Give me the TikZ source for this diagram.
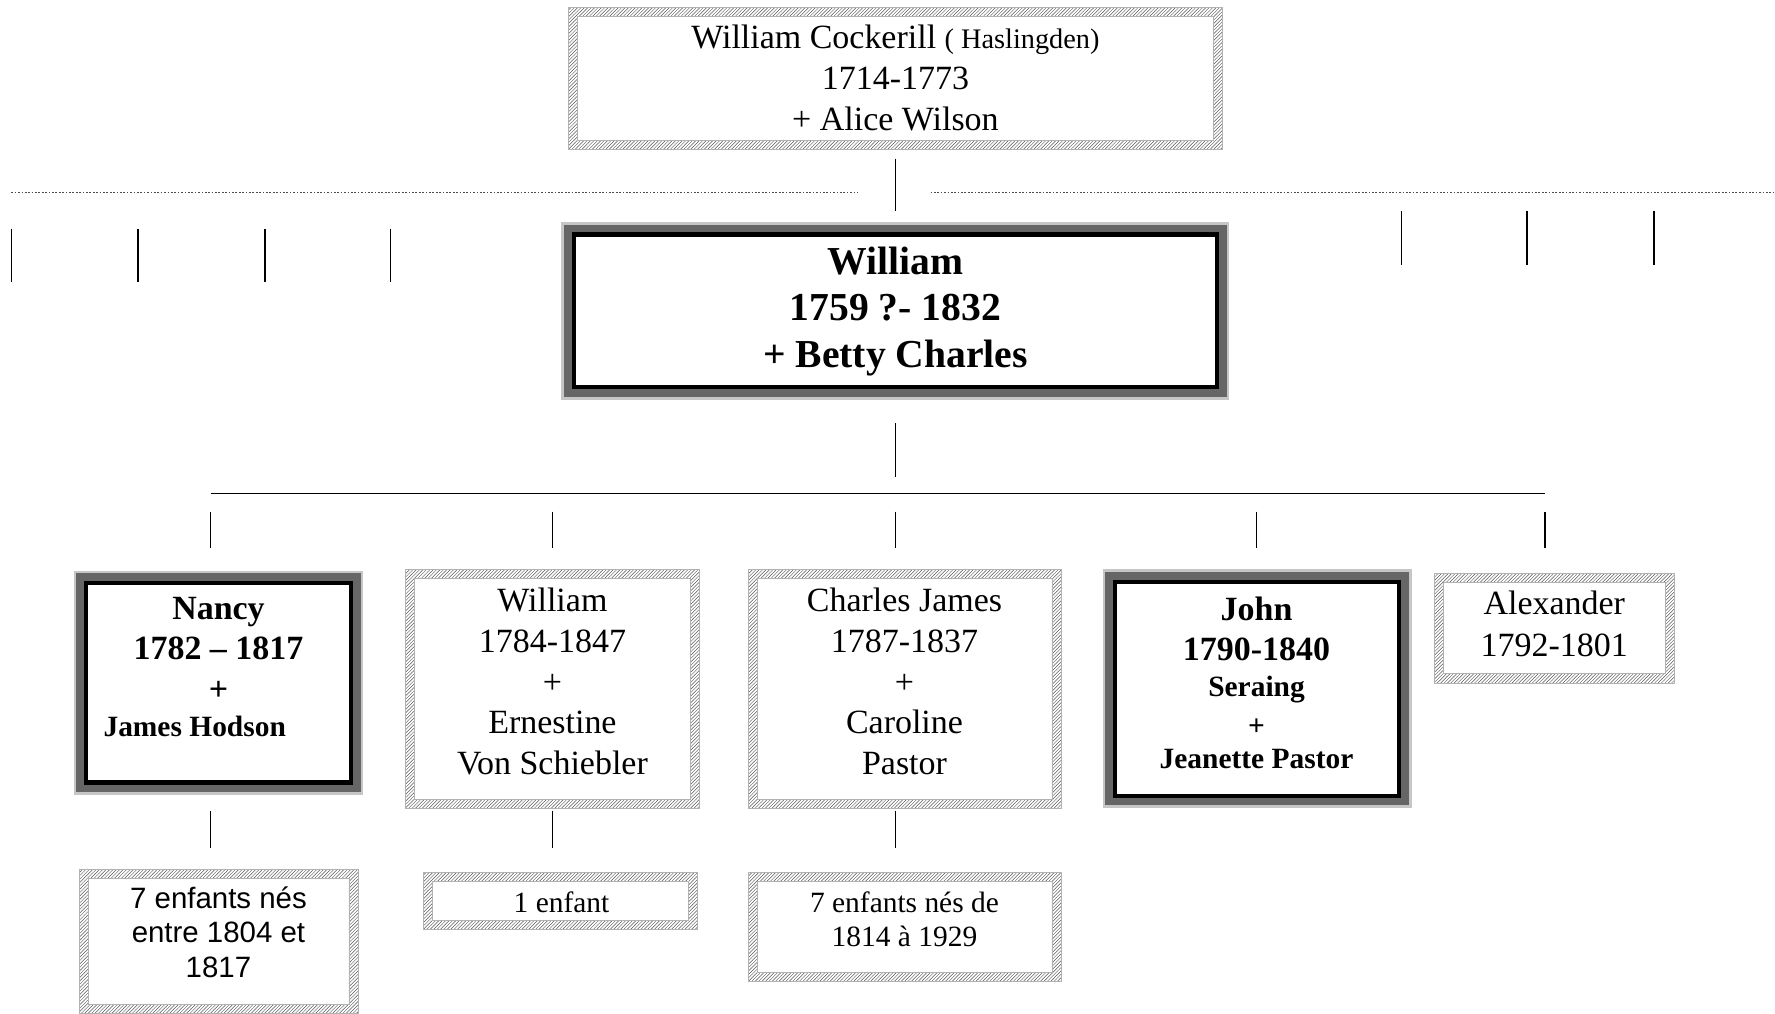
\documentclass[tikz,border=0pt]{standalone}
\usepackage{fontspec}
\setmainfont{Liberation Serif}
\newfontfamily\arialfont{Liberation Sans}
\usetikzlibrary{patterns}

\tikzset{
  hatchbox/.style={fill=white, inner sep=0pt},
  framebox/.style={draw=black, line width=4pt, fill=white, inner sep=0pt,
    preaction={draw=gray!45, line width=22pt},
    preaction={draw=black!60, line width=17pt}},
  link/.style={line width=1.3pt},
  txt/.style={align=center, inner sep=0pt},
}

% grey hatched frame round a node
\newcommand\hatchframe[1]{%
  \fill[pattern=north east lines, pattern color=black!65, even odd rule]
    (#1.north west) rectangle (#1.south east)
    ([shift={(8pt,-8pt)}]#1.north west) rectangle ([shift={(-8pt,8pt)}]#1.south east);
  \draw[gray!60, line width=0.6pt] (#1.north west) rectangle (#1.south east)
    ([shift={(8pt,-8pt)}]#1.north west) rectangle ([shift={(-8pt,8pt)}]#1.south east);}

\begin{document}
\begin{tikzpicture}[x=1pt,y=-1pt]
  \useasboundingbox[fill=white] (0,0) rectangle (1568,895);

  % parents
  \node[hatchbox, minimum width=578pt, minimum height=125pt] (top) at (791,69.5) {};
  \hatchframe{top}
  \node[txt, font=\fontsize{30}{36}\selectfont] (topT) at (791,69)
    {William Cockerill {\fontsize{25}{36}\selectfont( Haslingden)}\\1714-1773\\+ Alice Wilson};

  % dotted line and the other children
  \coordinate (dotL) at (10,170);
  \coordinate (dotM1) at (758,170);
  \coordinate (dotM2) at (822,170);
  \coordinate (dotR) at (1568,170);
  \draw[black!70, line width=1pt, dash pattern=on 1.5pt off 1.5pt] (dotL) -- (dotM1) (dotM2) -- (dotR);
  \foreach \x in {10,122,234,345} \draw[link] (\x,202) -- (\x,249);
  \foreach \x in {1238,1349,1461} \draw[link] (\x,186) -- (\x,234);

  \node[framebox, minimum width=568pt, minimum height=135pt] (main) at (791,274.5) {};
  \node[txt, font=\bfseries\fontsize{35}{41}\selectfont] (mainT) at (791,275)
    {William\\1759 ?- 1832\\+ Betty Charles};

  \draw[link] ([yshift=-8pt]top.south) -- (791,186);
  \draw[link] (791,374) -- (791,421);

  % children
  \coordinate (busL) at (186,436);
  \coordinate (busR) at (1365,436);
  \draw[link] (busL) -- (busR);
  \foreach \x in {186,488,791,1110,1365} \draw[link] (\x,452) -- (\x,484);

  \node[framebox, minimum width=234pt, minimum height=176pt] (nancy) at (193,603) {};
  \node[txt, font=\bfseries\fontsize{30}{35.5}\selectfont] (nancyT) at (193,589.5)
    {Nancy\\1782 -- 1817\\+\\[-3pt]\hspace*{-42pt}{\fontsize{26}{32}\selectfont James Hodson}};

  \node[hatchbox, minimum width=260pt, minimum height=211pt] (william) at (488,608.5) {};
  \hatchframe{william}
  \node[txt, font=\fontsize{30}{36}\selectfont] (williamT) at (488,602)
    {William\\1784-1847\\+\\Ernestine\\Von Schiebler};

  \node[hatchbox, minimum width=276pt, minimum height=211pt] (charles) at (799,608.5) {};
  \hatchframe{charles}
  \node[txt, font=\fontsize{30}{36}\selectfont] (charlesT) at (799,602)
    {Charles James\\1787-1837\\+\\Caroline\\Pastor};

  \node[framebox, minimum width=251pt, minimum height=189pt] (john) at (1110.5,608.5) {};
  \node[txt, font=\bfseries\fontsize{30}{35}\selectfont] (johnT) at (1110,603.5)
    {John\\1790-1840\\[-3pt]{\fontsize{26}{32}\selectfont Seraing}\\[-1pt]
     {\fontsize{26}{32}\selectfont +}\\[-5pt]{\fontsize{26}{32}\selectfont Jeanette Pastor}};

  \node[hatchbox, minimum width=212pt, minimum height=96pt] (alex) at (1373,555) {};
  \hatchframe{alex}
  \node[txt, font=\fontsize{30}{37}\selectfont] (alexT) at (1373,551.5)
    {Alexander\\1792-1801};

  % grandchildren
  \foreach \x in {186,488,791} \draw[link] (\x,716) -- (\x,749);

  \node[hatchbox, minimum width=246pt, minimum height=127pt] (nancyK) at (193,831.5) {};
  \hatchframe{nancyK}
  \node[txt, font=\arialfont\fontsize{26}{30.5}\selectfont] (nancyKT) at (193,823.5)
    {7 enfants nés\\entre 1804 et\\1817};

  \node[hatchbox, minimum width=242pt, minimum height=50pt] (williamK) at (495,796) {};
  \hatchframe{williamK}
  \node[txt, font=\fontsize{26}{30}\selectfont] (williamKT) at (496,797) {1 enfant};

  \node[hatchbox, minimum width=276pt, minimum height=96pt] (charlesK) at (799,819) {};
  \hatchframe{charlesK}
  \node[txt, font=\fontsize{26}{30}\selectfont] (charlesKT) at (799,812)
    {7 enfants nés de\\1814 à 1929};
\end{tikzpicture}
\end{document}
